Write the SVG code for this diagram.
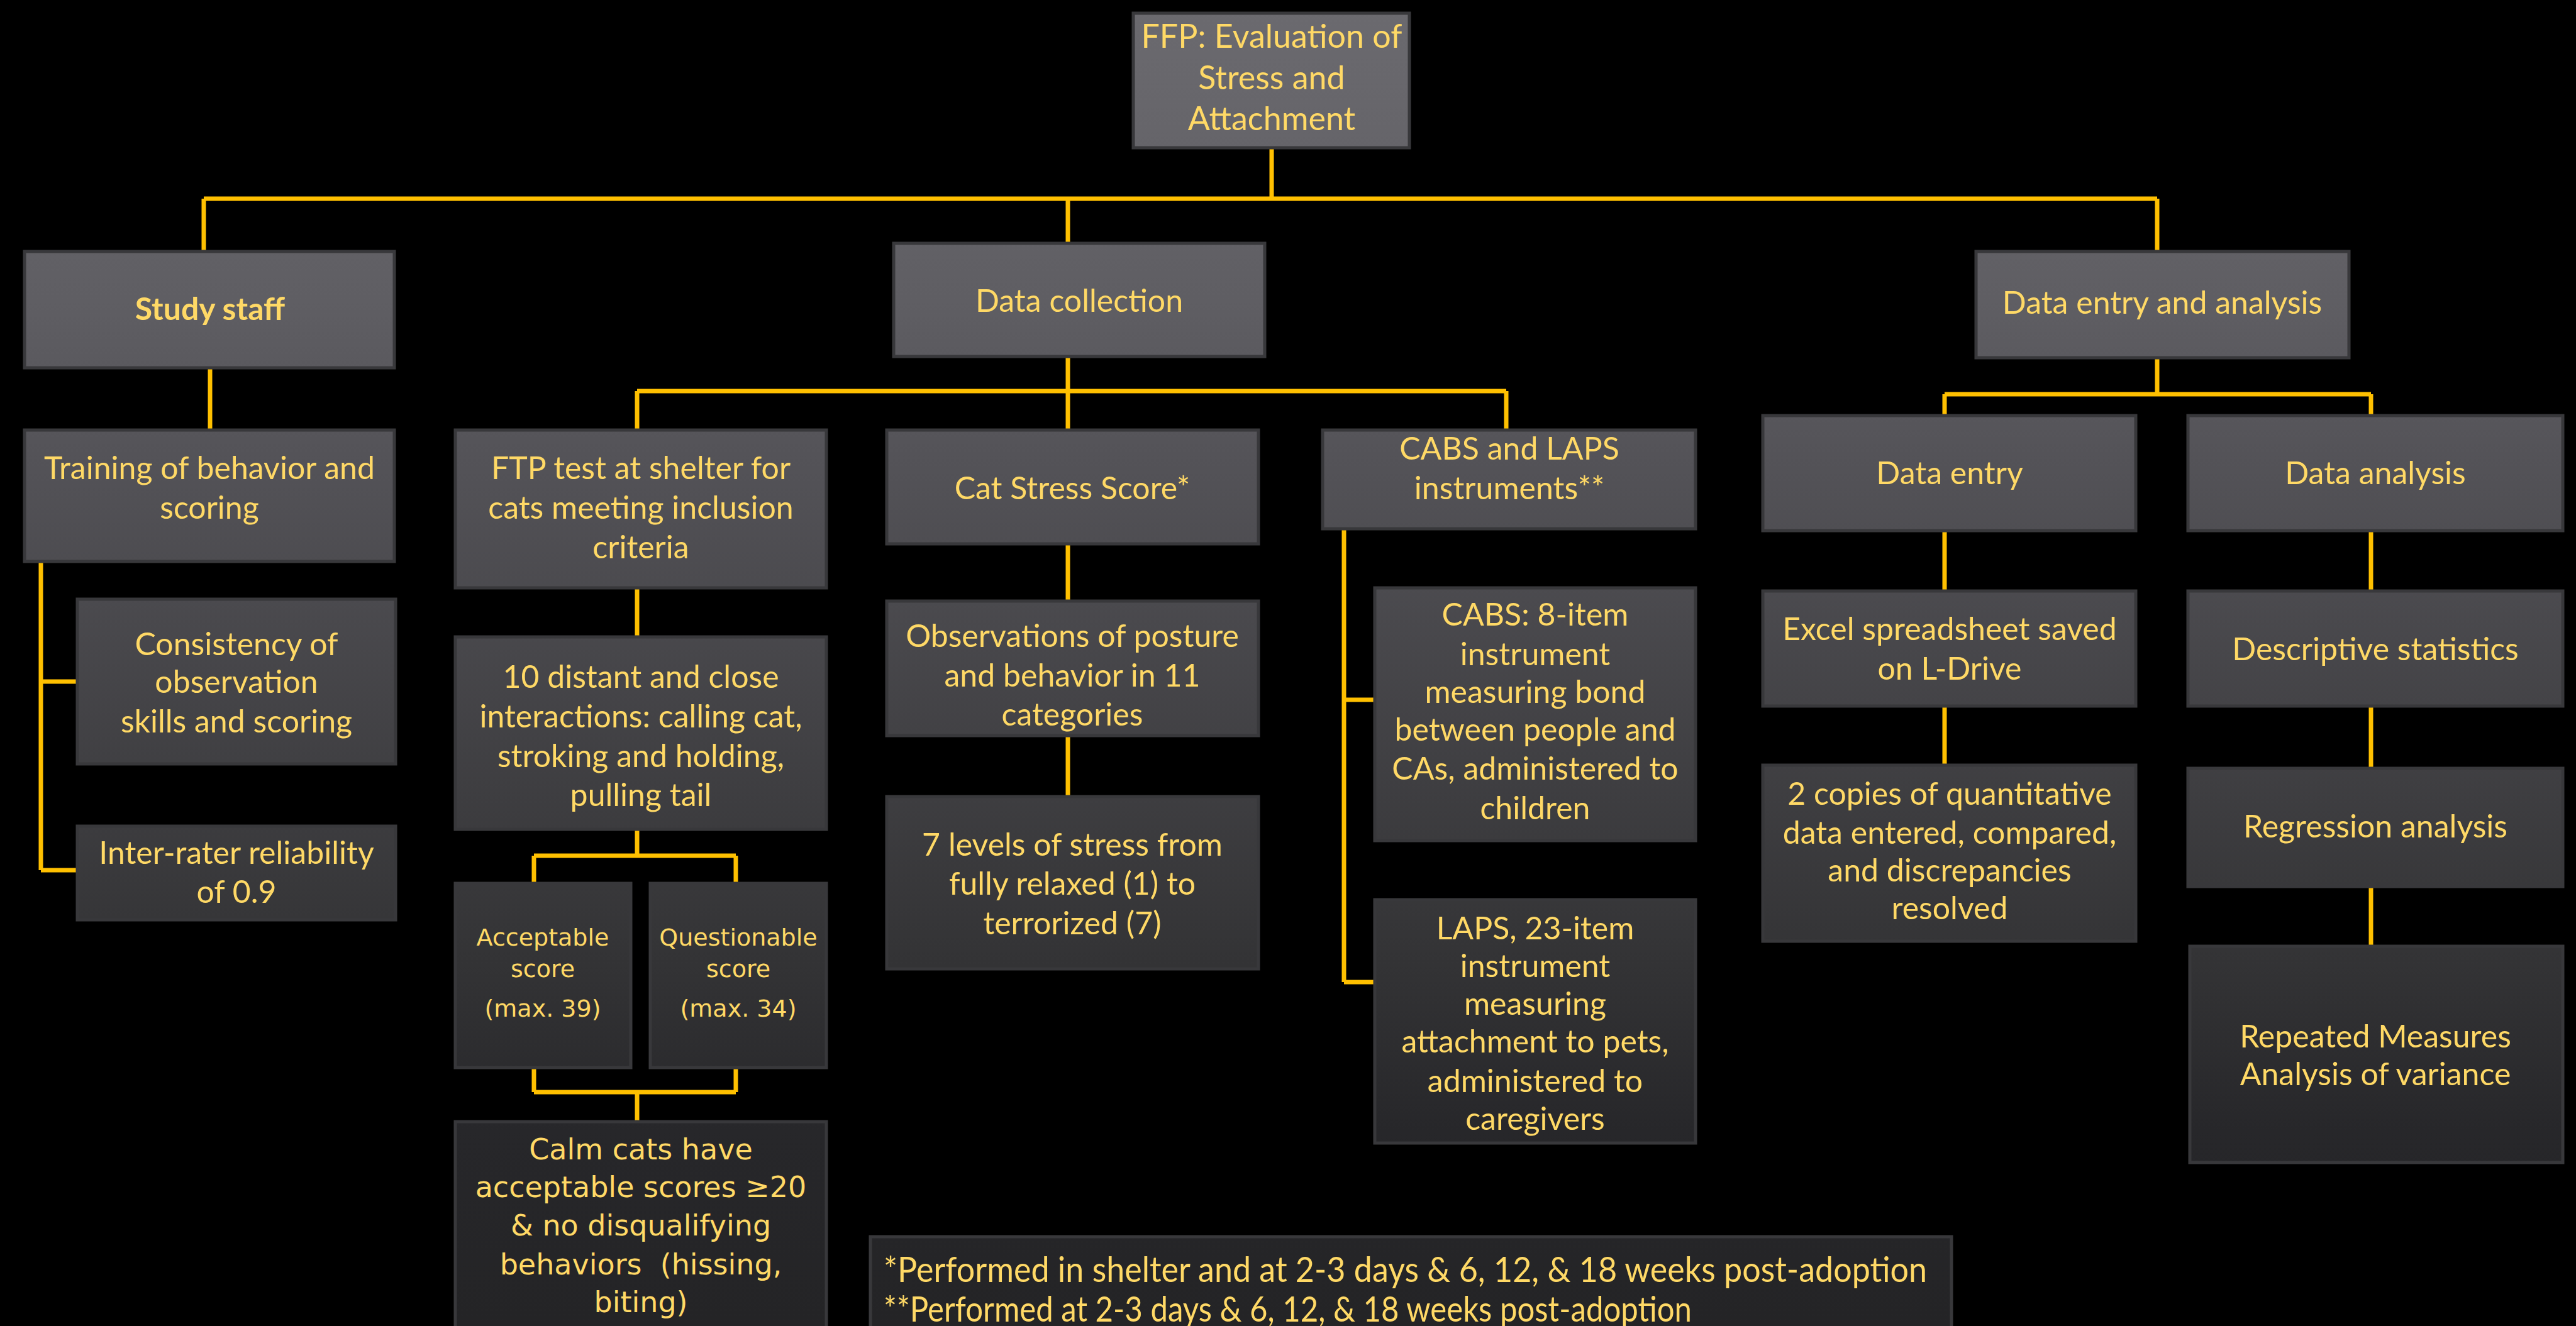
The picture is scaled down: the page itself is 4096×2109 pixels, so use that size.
<svg xmlns="http://www.w3.org/2000/svg" width="4096" height="2109" viewBox="0 0 4096 2109">
<defs>
<linearGradient id="bg" gradientUnits="userSpaceOnUse" x1="0" y1="0" x2="0" y2="2109">
<stop offset="0" stop-color="#6b6a6f"/>
<stop offset="0.042" stop-color="#69686d"/>
<stop offset="0.227" stop-color="#5f5e63"/>
<stop offset="0.343" stop-color="#545358"/>
<stop offset="0.728" stop-color="#333335"/>
<stop offset="0.853" stop-color="#27272a"/>
<stop offset="1" stop-color="#242426"/>
</linearGradient>
<style>
.box{fill:url(#bg);stroke:#38383b;stroke-width:5}
.t{font-family:Lato,"Liberation Sans",sans-serif;font-size:50px;fill:#FFD966;text-anchor:middle}
.b{font-weight:bold}
.w{font-family:"DejaVu Sans",sans-serif;font-size:46px;white-space:pre}
.s{font-family:"DejaVu Sans",sans-serif;font-size:38px}
.f{text-anchor:start;font-size:56px}
.c{fill:none;stroke:#FFC000;stroke-width:7}
</style>
</defs>
<rect width="4096" height="2109" fill="#000"/>
<g id="connectors">
<path class="c" d="M2022 235V316M324 316H3430M324 316V400M1698 316V387M3430 316V400"/>
<path class="c" d="M334 585V684"/>
<path class="c" d="M65 893V1384M65 1084H123M65 1384H123"/>
<path class="c" d="M1698 567V622M1013 622H2395M1013 622V684M1698 622V684M2395 622V684"/>
<path class="c" d="M1013 935V1013M1013 1319V1361M849 1361H1170M849 1361V1405M1170 1361V1405"/>
<path class="c" d="M849 1698V1737M1170 1698V1737M849 1737H1170M1013 1737V1784"/>
<path class="c" d="M1698 865V956M1698 1170V1267"/>
<path class="c" d="M2137 841V1562M2137 1113H2186M2137 1562H2186"/>
<path class="c" d="M3430 569V627M3092 627H3770M3092 627V661M3770 627V661"/>
<path class="c" d="M3092 844V940M3092 1123V1217"/>
<path class="c" d="M3770 844V940M3770 1123V1222M3770 1410V1505"/>
</g>
<g id="n-ffp"><rect class="box" x="1802" y="21" width="439" height="214"/>
<text class="t" font-size="52"><tspan x="2022" y="76" font-size="52">FFP: Evaluation of</tspan><tspan x="2022" y="142" font-size="52">Stress and</tspan><tspan x="2022" y="207" font-size="52">Attachment</tspan></text></g>
<g id="n-staff"><rect class="box" x="39" y="400" width="588" height="185"/>
<text class="t b" x="334" y="509">Study staff</text></g>
<g id="n-collect"><rect class="box" x="1421" y="387" width="590" height="180"/>
<text class="t" x="1716" y="496">Data collection</text></g>
<g id="n-entryanalysis"><rect class="box" x="3142" y="400" width="593" height="169"/>
<text class="t" x="3438" y="499">Data entry and analysis</text></g>
<g id="n-training"><rect class="box" x="39" y="684" width="588" height="209"/>
<text class="t"><tspan x="333" y="762">Training of behavior and</tspan><tspan x="333" y="825">scoring</tspan></text></g>
<g id="n-consistency"><rect class="box" x="123" y="953" width="506" height="262"/>
<text class="t"><tspan x="376" y="1042">Consistency of</tspan><tspan x="376" y="1102">observation</tspan><tspan x="376" y="1165">skills and scoring</tspan></text></g>
<g id="n-interrater"><rect class="box" x="123" y="1314" width="506" height="149"/>
<text class="t"><tspan x="376" y="1374">Inter-rater reliability</tspan><tspan x="376" y="1436">of 0.9</tspan></text></g>
<g id="n-ftp"><rect class="box" x="724" y="684" width="590" height="251"/>
<text class="t"><tspan x="1019" y="762">FTP test at shelter for</tspan><tspan x="1019" y="825">cats meeting inclusion</tspan><tspan x="1019" y="888">criteria</tspan></text></g>
<g id="n-catstress"><rect class="box" x="1410" y="684" width="591" height="181"/>
<text class="t" x="1705" y="794">Cat Stress Score*</text></g>
<g id="n-cabslaps"><rect class="box" x="2103" y="684" width="593" height="157"/>
<text class="t"><tspan x="2400" y="731">CABS and LAPS</tspan><tspan x="2400" y="794">instruments**</tspan></text></g>
<g id="n-interactions"><rect class="box" x="724" y="1013" width="590" height="306"/>
<text class="t"><tspan x="1019" y="1094">10 distant and close</tspan><tspan x="1019" y="1157">interactions: calling cat,</tspan><tspan x="1019" y="1220">stroking and holding,</tspan><tspan x="1019" y="1282">pulling tail</tspan></text></g>
<g id="n-acceptable"><rect class="box" x="724" y="1405" width="279" height="293"/>
<text class="t s"><tspan x="863" y="1504">Acceptable</tspan><tspan x="863" y="1554">score</tspan><tspan x="863" y="1617">(max. 39)</tspan></text></g>
<g id="n-questionable"><rect class="box" x="1034" y="1405" width="280" height="293"/>
<text class="t s"><tspan x="1174" y="1504">Questionable</tspan><tspan x="1174" y="1554">score</tspan><tspan x="1174" y="1617">(max. 34)</tspan></text></g>
<g id="n-calm"><rect class="box" x="724" y="1784" width="590" height="340"/>
<text class="t w" xml:space="preserve"><tspan x="1019" y="1844">Calm cats have</tspan><tspan x="1019" y="1904">acceptable scores ≥20</tspan><tspan x="1019" y="1965">&amp; no disqualifying</tspan><tspan x="1019" y="2027">behaviors  (hissing,</tspan><tspan x="1019" y="2087">biting)</tspan></text></g>
<g id="n-observations"><rect class="box" x="1410" y="956" width="591" height="214"/>
<text class="t"><tspan x="1705" y="1029">Observations of posture</tspan><tspan x="1705" y="1092">and behavior in 11</tspan><tspan x="1705" y="1154">categories</tspan></text></g>
<g id="n-levels"><rect class="box" x="1410" y="1267" width="591" height="274"/>
<text class="t"><tspan x="1705" y="1361">7 levels of stress from</tspan><tspan x="1705" y="1423">fully relaxed (1) to</tspan><tspan x="1705" y="1486">terrorized (7)</tspan></text></g>
<g id="n-cabs"><rect class="box" x="2186" y="935" width="510" height="402"/>
<text class="t"><tspan x="2441" y="995">CABS: 8-item</tspan><tspan x="2441" y="1058">instrument</tspan><tspan x="2441" y="1118">measuring bond</tspan><tspan x="2441" y="1178">between people and</tspan><tspan x="2441" y="1240">CAs, administered to</tspan><tspan x="2441" y="1303">children</tspan></text></g>
<g id="n-laps"><rect class="box" x="2186" y="1431" width="510" height="387"/>
<text class="t"><tspan x="2441" y="1494">LAPS, 23-item</tspan><tspan x="2441" y="1554">instrument</tspan><tspan x="2441" y="1614">measuring</tspan><tspan x="2441" y="1674">attachment to pets,</tspan><tspan x="2441" y="1737">administered to</tspan><tspan x="2441" y="1797">caregivers</tspan></text></g>
<g id="n-entry"><rect class="box" x="2803" y="661" width="593" height="183"/>
<text class="t" x="3100" y="770">Data entry</text></g>
<g id="n-analysis"><rect class="box" x="3479" y="661" width="596" height="183"/>
<text class="t" x="3777" y="770">Data analysis</text></g>
<g id="n-excel"><rect class="box" x="2803" y="940" width="593" height="183"/>
<text class="t"><tspan x="3100" y="1018">Excel spreadsheet saved</tspan><tspan x="3100" y="1081">on L-Drive</tspan></text></g>
<g id="n-copies"><rect class="box" x="2803" y="1217" width="593" height="280"/>
<text class="t"><tspan x="3100" y="1280">2 copies of quantitative</tspan><tspan x="3100" y="1342">data entered, compared,</tspan><tspan x="3100" y="1402">and discrepancies</tspan><tspan x="3100" y="1462">resolved</tspan></text></g>
<g id="n-descriptive"><rect class="box" x="3479" y="940" width="596" height="183"/>
<text class="t" x="3777" y="1050">Descriptive statistics</text></g>
<g id="n-regression"><rect class="box" x="3479" y="1222" width="596" height="188"/>
<text class="t" x="3777" y="1332">Regression analysis</text></g>
<g id="n-repeated"><rect class="box" x="3482" y="1505" width="593" height="344"/>
<text class="t"><tspan x="3777" y="1666">Repeated Measures</tspan><tspan x="3777" y="1726">Analysis of variance</tspan></text></g>
<g id="n-footnote"><rect class="box" x="1384" y="1967" width="1719" height="160"/>
<text class="t f"><tspan x="1405" y="2039" textLength="1659" lengthAdjust="spacingAndGlyphs">*Performed in shelter and at 2-3 days &amp; 6, 12, &amp; 18 weeks post-adoption</tspan><tspan x="1405" y="2102" textLength="1285" lengthAdjust="spacingAndGlyphs">**Performed at 2-3 days &amp; 6, 12, &amp; 18 weeks post-adoption</tspan></text></g>
</svg>
